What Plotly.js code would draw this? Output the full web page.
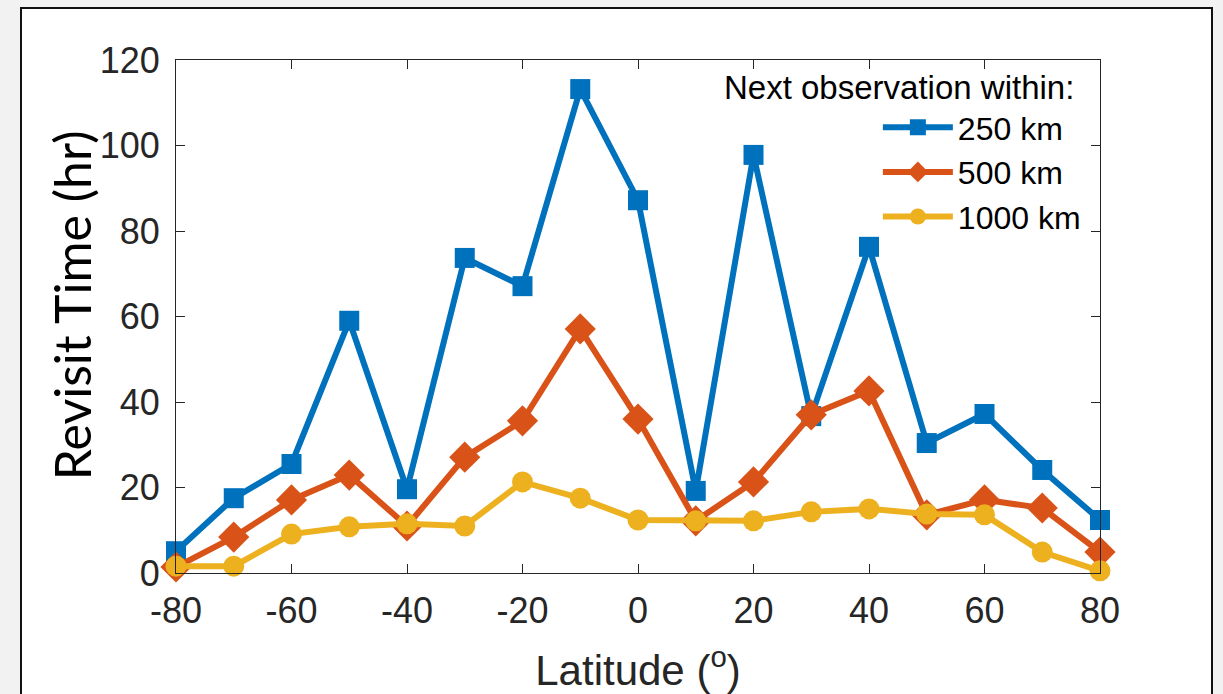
<!DOCTYPE html>
<html>
<head>
<meta charset="utf-8">
<script src="https://cdn.plot.ly/plotly-3.0.1.min.js"></script>
<style>
  html, body { margin: 0; padding: 0; background: #f2f2f2; }
  #frame { position: absolute; left: 20px; top: 7px; width: 1193px; height: 720px;
           background: #ffffff; border: 2px solid #111; box-sizing: border-box; }
  #chart { position: absolute; left: 0; top: 0; width: 1223px; height: 694px; }
</style>
</head>
<body>
<div id="frame"></div>
<div id="chart"></div>
<script>
const latitude = [-80, -70, -60, -50, -40, -30, -20, -10, 0, 10, 20, 30, 40, 50, 60, 70, 80];
const within250 = [5.1, 17.5, 25.5, 59, 19.6, 73.7, 67.1, 113.2, 87.2, 19.2, 97.8, 36.7, 76.3, 30.4, 37.2, 24.1, 12.4];
const within500 = [1.4, 8.4, 17.1, 22.9, 11, 27.1, 35.6, 57.1, 36, 12.2, 21.3, 37, 42.6, 13.6, 17.1, 15.2, 4.9];
const within1000 = [1.6, 1.6, 9.1, 10.8, 11.5, 11, 21.3, 17.5, 12.4, 12.2, 12.2, 14.3, 15, 13.8, 13.6, 4.9, 0.5];
const seriesNames = ['250 km', '500 km', '1000 km'];
const xTicks = [-80, -60, -40, -20, 0, 20, 40, 60, 80];
const yTicks = [0, 20, 40, 60, 80, 100, 120];
const legendTitle = 'Next observation within:';
const yTitle = 'Revisit Time (hr)';
const xTitle = 'Latitude (<sup>o</sup>)';

const colors = ['#0072BD', '#D95319', '#EDB120'];
const symbols = ['square', 'diamond', 'circle'];
const sizes = [20, 24, 21];
const ys = [within250, within500, within1000];

const traces = ys.map((y, i) => ({
  x: latitude, y: y, name: seriesNames[i], type: 'scatter', mode: 'lines+markers',
  line: { color: colors[i], width: 6 },
  marker: { color: colors[i], symbol: symbols[i], size: sizes[i] },
  cliponaxis: false
}));

const axisCommon = {
  showgrid: false, zeroline: false, showline: true, linecolor: '#262626', linewidth: 1,
  mirror: 'ticks', ticks: 'inside', ticklen: 9, tickcolor: '#262626', tickwidth: 1,
  tickfont: { family: 'Liberation Sans, Arial, sans-serif', size: 36, color: '#262626' }
};

const layout = {
  width: 1223, height: 694,
  margin: { l: 176, r: 123, t: 60, b: 121, pad: 0 },
  paper_bgcolor: 'rgba(0,0,0,0)', plot_bgcolor: '#ffffff',
  showlegend: true,
  xaxis: Object.assign({}, axisCommon, {
    range: [-80, 80], tickvals: xTicks, ticktext: xTicks.map(String),
    ticklabelstandoff: 6,
    title: { text: xTitle, standoff: 27,
             font: { family: 'Liberation Sans, Arial, sans-serif', size: 42, color: '#262626' } }
  }),
  yaxis: Object.assign({}, axisCommon, {
    range: [0, 120], tickvals: yTicks, ticktext: yTicks.map(String),
    ticklabelstandoff: 8
  }),
  annotations: [
    { text: yTitle, xref: 'paper', yref: 'paper', x: -0.1126, y: 0.522,
      xanchor: 'center', yanchor: 'middle', textangle: -90, showarrow: false,
      font: { family: 'Lato, sans-serif', size: 50, color: '#000000' } },
    { text: legendTitle, xref: 'paper', yref: 'paper', x: 0.974, y: 0.947,
      xanchor: 'right', yanchor: 'middle', showarrow: false,
      font: { family: 'Liberation Sans, Arial, sans-serif', size: 33, color: '#000000' } }
  ],
  legend: {
    x: 0.7596, xanchor: 'left', y: 0.922, yanchor: 'top',
    bgcolor: 'rgba(0,0,0,0)', borderwidth: 0,
    font: { family: 'Liberation Sans, Arial, sans-serif', size: 32, color: '#000000' },
    itemwidth: 70
  }
};

Plotly.newPlot('chart', traces, layout, { displayModeBar: false, staticPlot: true });
</script>
</body>
</html>
